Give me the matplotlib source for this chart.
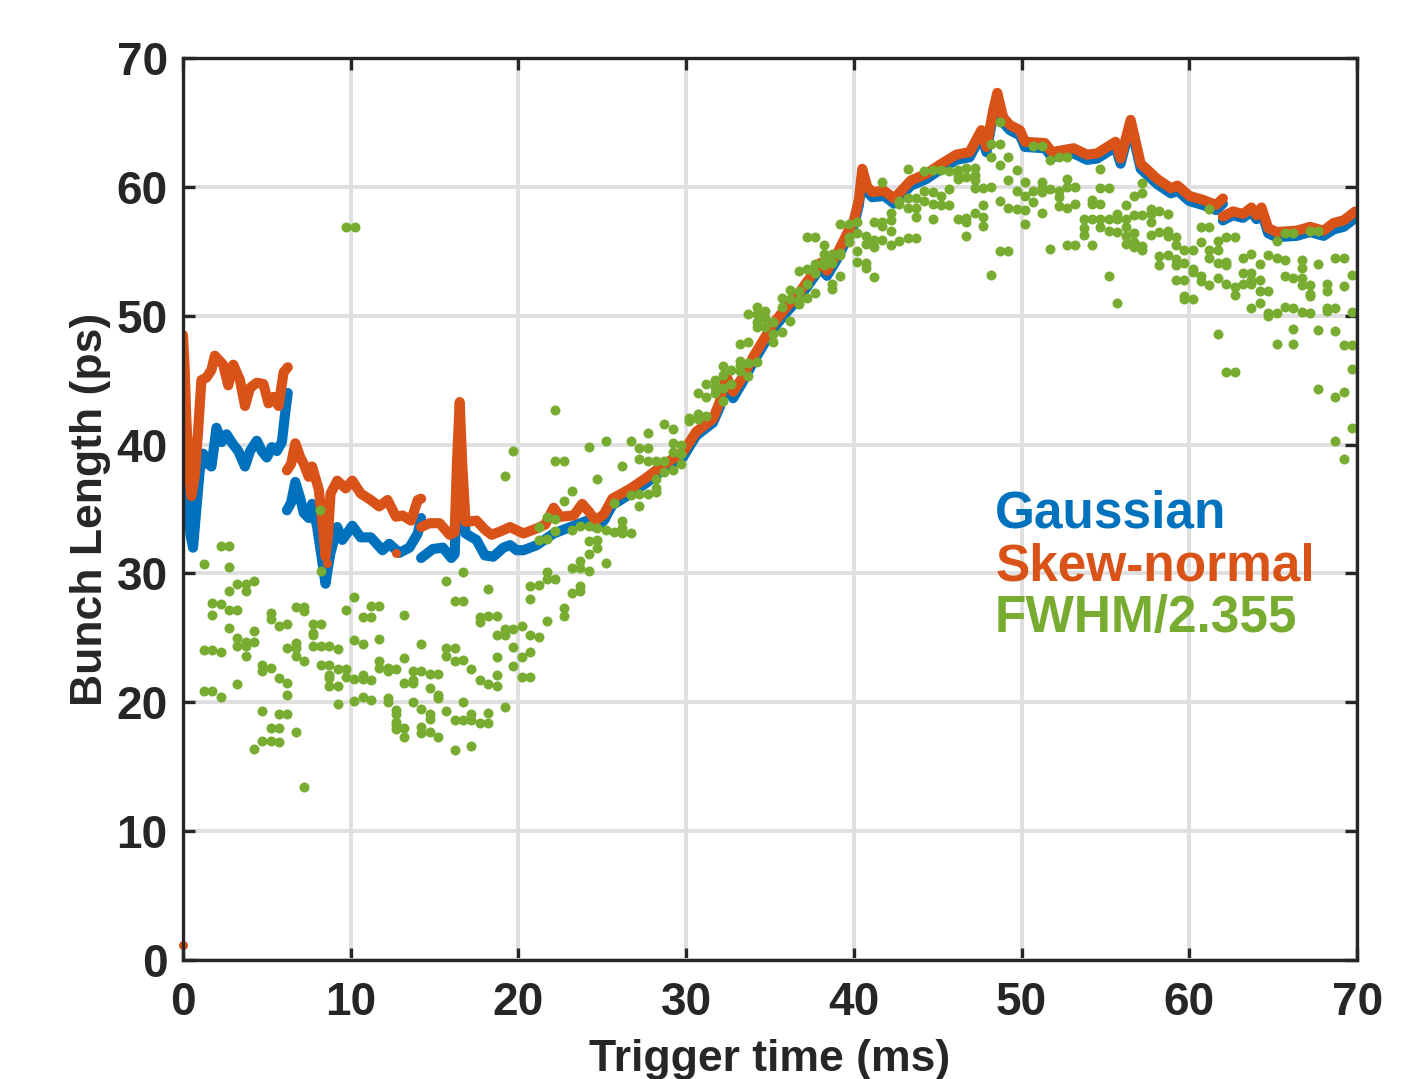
import numpy as np
import matplotlib.pyplot as plt

BLUE = '#0072BD'
ORANGE = '#D95319'
GREEN = '#77AC30'

# (time ms, bunch length ps); NaN breaks the trace where the record restarts
gauss_pts = [
    (0.0, 44.0), (0.15, 40.0), (0.3, 36.0), (0.45, 33.0), (0.6, 32.0), (0.8, 35.0),
    (1.0, 38.0), (1.2, 39.3), (1.5, 38.5), (1.7, 38.3), (2.0, 41.3), (2.3, 40.2),
    (2.6, 40.8), (3.0, 40.0), (3.3, 39.5), (3.7, 38.3), (4.0, 39.5), (4.4, 40.3),
    (4.7, 39.5), (5.0, 39.0), (5.3, 39.8), (5.6, 39.5), (5.9, 40.2), (6.1, 42.5),
    (6.25, 44.0),
    (np.nan, np.nan),
    (6.2, 34.9), (6.45, 35.5), (6.7, 37.1), (7.0, 35.8), (7.2, 34.7), (7.5, 34.3),
    (7.7, 35.4), (8.0, 33.6), (8.3, 31.0), (8.5, 29.2), (8.65, 30.5), (8.8, 31.6),
    (9.2, 33.6), (9.5, 32.6), (10.1, 33.7), (10.6, 32.8), (11.2, 32.8), (11.9, 31.8),
    (12.3, 32.3), (12.9, 31.6), (13.5, 32.0), (14.0, 33.1), (14.2, 34.3),
    (np.nan, np.nan),
    (14.2, 31.2), (14.9, 31.9), (15.5, 32.0), (16.0, 31.2), (16.2, 31.5), (16.35, 37.0),
    (16.5, 40.5), (16.65, 36.0), (16.85, 33.1), (17.5, 32.6), (18.0, 31.4), (18.5, 31.3),
    (19.1, 32.0), (19.5, 32.2), (19.9, 31.8), (20.3, 31.8), (21.1, 32.2), (22.1, 33.1),
    (23.1, 33.6), (24.1, 34.1), (24.6, 33.6), (25.1, 34.1), (25.6, 35.3), (26.7, 36.2),
    (27.6, 37.0), (28.6, 38.0), (29.8, 39.0), (30.6, 40.7), (31.6, 41.7), (32.0, 42.9),
    (32.4, 44.8), (32.8, 43.6), (33.3, 44.7), (34.0, 46.4), (34.6, 47.7), (35.2, 49.0),
    (36.0, 50.3), (36.7, 51.3), (37.4, 52.6), (38.0, 53.7), (38.4, 53.1), (39.0, 54.4),
    (39.6, 56.0), (40.0, 57.0), (40.3, 58.6), (40.5, 60.9), (40.8, 59.6), (41.1, 59.2),
    (41.8, 59.3), (42.4, 58.7), (43.4, 60.1), (44.3, 60.6), (45.1, 61.3), (46.1, 62.1),
    (46.9, 62.3), (47.6, 64.0), (47.9, 62.7), (48.3, 65.5), (48.55, 66.9), (48.9, 65.0),
    (49.3, 64.4), (49.9, 64.0), (50.2, 63.1), (51.4, 63.0), (51.8, 62.3), (53.1, 62.6),
    (53.9, 62.1), (54.5, 62.2), (55.6, 63.1), (55.9, 61.8), (56.5, 64.8), (57.1, 61.4),
    (58.1, 60.2), (58.9, 59.5), (59.3, 59.7), (60.0, 58.9), (60.8, 58.6), (61.6, 58.2),
    (62.0, 58.7),
    (np.nan, np.nan),
    (62.0, 57.4), (62.6, 57.8), (63.2, 57.6), (63.7, 58.1), (64.0, 57.5), (64.3, 58.1),
    (64.7, 56.4), (65.2, 56.1), (66.4, 56.2), (67.2, 56.5), (68.0, 56.2), (68.6, 56.7),
    (69.2, 56.9), (69.9, 57.6),
]

skew_pts = [
    (0.0, 48.5), (0.1, 46.0), (0.2, 42.0), (0.35, 38.0), (0.5, 36.0), (0.7, 37.5),
    (0.9, 41.0), (1.1, 45.0), (1.4, 45.2), (1.7, 45.8), (1.9, 46.9), (2.4, 46.2),
    (2.7, 44.6), (3.0, 46.2), (3.4, 45.0), (3.7, 43.0), (4.0, 44.4), (4.4, 44.8),
    (4.8, 44.7), (5.1, 43.2), (5.4, 43.7), (5.7, 43.0), (6.0, 45.6), (6.25, 46.0),
    (np.nan, np.nan),
    (6.2, 38.0), (6.45, 38.5), (6.7, 40.1), (7.0, 39.0), (7.2, 38.5), (7.5, 37.5),
    (7.7, 38.3), (8.1, 36.5), (8.35, 33.5), (8.5, 31.3), (8.65, 33.0), (8.8, 36.2),
    (9.2, 37.2), (9.7, 36.6), (10.1, 37.2), (10.6, 36.2), (11.2, 35.7), (11.7, 35.2),
    (12.2, 35.7), (12.7, 34.4), (13.1, 34.5), (13.6, 34.1), (14.0, 35.7), (14.2, 35.8),
    (np.nan, np.nan),
    (14.2, 33.6), (14.7, 33.9), (15.3, 33.9), (15.9, 33.0), (16.2, 33.2), (16.35, 39.0),
    (16.5, 43.3), (16.65, 38.5), (16.85, 34.0), (17.5, 34.1), (18.0, 33.4), (18.4, 33.0),
    (19.0, 33.3), (19.5, 33.6), (20.3, 33.1), (21.1, 33.5), (21.6, 33.8), (22.1, 35.1),
    (22.5, 34.4), (23.3, 34.5), (23.8, 35.4), (24.2, 34.8), (24.6, 34.1), (25.1, 34.6),
    (25.6, 35.8), (26.7, 36.6), (27.6, 37.4), (28.6, 38.4), (29.8, 39.4), (30.6, 41.0),
    (31.6, 42.0), (32.0, 43.3), (32.4, 45.3), (32.8, 44.1), (33.3, 45.1), (34.0, 46.8),
    (34.6, 48.1), (35.2, 49.4), (36.0, 50.7), (36.7, 51.7), (37.4, 53.0), (38.0, 54.1),
    (38.4, 53.5), (39.0, 54.8), (39.6, 56.4), (40.0, 57.4), (40.3, 59.0), (40.5, 61.4),
    (40.8, 60.0), (41.1, 59.6), (41.8, 59.7), (42.4, 59.1), (43.4, 60.5), (44.3, 61.0),
    (45.1, 61.7), (46.1, 62.5), (46.9, 62.7), (47.6, 64.4), (47.9, 63.1), (48.3, 65.9),
    (48.55, 67.3), (48.9, 65.4), (49.3, 64.8), (49.9, 64.4), (50.2, 63.5), (51.4, 63.4),
    (51.8, 62.7), (53.1, 63.0), (53.9, 62.5), (54.5, 62.6), (55.6, 63.5), (55.9, 62.2),
    (56.5, 65.2), (57.1, 61.8), (58.1, 60.6), (58.9, 59.9), (59.3, 60.1), (60.0, 59.3),
    (60.8, 59.0), (61.6, 58.6), (62.0, 59.1),
    (np.nan, np.nan),
    (62.0, 57.7), (62.6, 58.1), (63.2, 57.9), (63.7, 58.4), (64.0, 57.8), (64.3, 58.4),
    (64.7, 56.8), (65.2, 56.5), (66.4, 56.6), (67.2, 56.9), (68.0, 56.6), (68.6, 57.2),
    (69.2, 57.4), (69.9, 58.1),
]

skew_stray = [(0.0, 1.2), (8.6, 30.8), (12.7, 31.6)]

fwhm_pts = [
    # 0 - 10 ms
    (2.25, 32.1), (2.74, 32.1), (1.23, 30.7), (2.74, 30.5), (8.23, 30.2),
    (3.24, 29.2), (3.74, 29.2), (4.23, 29.4), (2.74, 28.6), (3.74, 28.6),
    (1.73, 27.7), (2.25, 27.6), (1.73, 26.8), (2.74, 27.2), (3.24, 27.2),
    (5.23, 26.9), (5.23, 26.5), (6.72, 27.4), (7.22, 27.4), (7.22, 27.1),
    (5.73, 25.9), (6.22, 26.1), (7.73, 26.1), (8.23, 26.1), (7.73, 25.4), (7.73, 25.2),
    (9.72, 27.2), (2.74, 25.8), (4.23, 25.5),
    (3.24, 25.0), (3.24, 24.4), (3.74, 24.7), (3.74, 24.4), (4.23, 24.7),
    (1.23, 24.05), (1.73, 24.05), (2.25, 23.9), (3.74, 23.6),
    (6.22, 24.2), (6.72, 24.2), (6.72, 24.6), (6.72, 23.6), (7.22, 23.2),
    (7.73, 24.4), (8.23, 24.4), (8.73, 24.4), (9.22, 24.1),
    (4.73, 22.9), (4.73, 22.4), (5.23, 22.7), (5.73, 21.9), (6.22, 21.5),
    (8.23, 22.9), (8.73, 22.9), (9.22, 22.6), (9.72, 22.6), (8.73, 22.1), (8.73, 21.9),
    (9.72, 22.0), (8.73, 21.3), (9.22, 21.3), (3.24, 21.4),
    (1.23, 20.9), (1.73, 20.9), (2.25, 20.4), (6.22, 20.6), (9.22, 19.9),
    (4.73, 19.3), (5.73, 19.1), (6.22, 19.1), (5.23, 18.0), (5.73, 18.0), (6.72, 17.7),
    (4.73, 17.0), (5.23, 17.0), (5.73, 16.9), (4.23, 16.4), (7.22, 13.4),
    (8.2, 34.9), (9.73, 56.9), (10.23, 56.9),
    # 10 - 21 ms
    (16.7, 30.1), (15.7, 29.4), (18.2, 28.8), (10.22, 28.2), (16.2, 27.9), (16.7, 27.9),
    (11.21, 27.5), (11.71, 27.5), (10.71, 26.6), (11.21, 26.6), (13.2, 26.8),
    (17.7, 26.6), (17.7, 26.2), (18.2, 26.7), (18.7, 26.7),
    (19.2, 25.7), (19.7, 25.7), (20.2, 25.9), (18.7, 25.2), (19.2, 25.2),
    (20.7, 25.2), (20.7, 29.0), (20.7, 28.0),
    (10.22, 24.8), (10.71, 24.5), (11.71, 24.9), (14.2, 24.5), (15.7, 24.2), (16.2, 24.2),
    (15.7, 23.6), (16.2, 23.2), (16.7, 23.3), (13.2, 23.4), (18.7, 23.5), (19.7, 24.3),
    (20.2, 23.5), (20.7, 23.9),
    (11.71, 23.2), (11.71, 22.7), (12.2, 22.7), (12.2, 22.4), (12.7, 22.6),
    (13.7, 22.4), (14.2, 22.4), (14.7, 22.2), (15.2, 22.2), (17.2, 22.6), (19.7, 22.8),
    (10.22, 21.8), (10.71, 22.1), (10.71, 21.8), (11.21, 21.7), (13.2, 21.5), (13.7, 21.5),
    (13.7, 21.7), (14.7, 21.1), (17.7, 21.7), (18.2, 21.4), (18.7, 21.3), (18.7, 22.1),
    (20.2, 22.0), (20.7, 22.0),
    (15.2, 20.6), (15.2, 20.3), (10.22, 20.1), (10.71, 20.4), (11.21, 20.2), (12.2, 20.3),
    (12.2, 20.0), (13.7, 20.0), (16.7, 20.0), (19.2, 19.6),
    (12.7, 19.4), (12.7, 19.1), (12.7, 18.5), (12.7, 18.2), (12.7, 17.9), (13.2, 18.0),
    (13.2, 17.3), (14.2, 19.5), (14.7, 19.1), (14.7, 18.7), (14.2, 18.1), (14.2, 17.6),
    (14.7, 17.7), (15.2, 17.3), (15.7, 19.3), (16.2, 18.6), (16.7, 18.6), (17.2, 19.1),
    (17.2, 18.6), (17.7, 18.4), (18.2, 19.2), (18.2, 18.4), (16.2, 16.3), (17.2, 16.6),
    # 19 - 30 ms
    (22.2, 42.7), (19.7, 39.5), (19.2, 37.6), (22.2, 38.7), (22.7, 38.7), (24.2, 39.8),
    (25.2, 40.3), (26.7, 40.3), (24.7, 37.3), (23.2, 36.4), (22.7, 35.6), (26.2, 38.3),
    (27.2, 39.7), (27.2, 38.9), (27.7, 39.7), (27.7, 38.7), (27.7, 40.9), (28.7, 41.6),
    (29.2, 41.2), (28.2, 38.7), (28.7, 38.7), (28.2, 37.3), (28.2, 36.6), (28.2, 36.3),
    (28.7, 37.9), (29.2, 40.1), (29.2, 39.4), (29.2, 38.0), (29.7, 40.0), (29.7, 39.3),
    (29.7, 38.5), (26.7, 36.1), (27.2, 36.2), (27.2, 35.2), (27.7, 36.2), (25.7, 35.5),
    (21.7, 34.4), (22.2, 34.2), (21.2, 33.6), (21.2, 32.6), (21.7, 32.7), (22.2, 33.3),
    (23.2, 33.4), (23.7, 33.7), (24.2, 33.7), (24.7, 33.5), (25.2, 33.4), (25.7, 33.2),
    (26.2, 34.1), (26.2, 33.5), (26.2, 33.1), (26.7, 33.1),
    (24.2, 32.5), (24.7, 32.6), (24.7, 32.0), (24.2, 31.5), (23.7, 31.0), (23.7, 30.4),
    (23.2, 30.4), (24.2, 30.2), (25.2, 30.8), (21.7, 30.1), (21.7, 29.6), (22.2, 29.6),
    (21.2, 29.1), (23.2, 28.5), (23.7, 29.0), (23.7, 28.6), (22.7, 27.3), (22.7, 26.7),
    (21.7, 26.3), (21.2, 25.1),
    # 30 - 41 ms
    (30.2, 42.1), (30.2, 41.8), (30.7, 42.4), (30.7, 42.0), (31.2, 42.2),
    (30.7, 44.0), (31.2, 44.7), (31.2, 43.7), (31.7, 45.0), (31.7, 44.5), (31.7, 44.0),
    (32.2, 46.1), (32.2, 45.4), (32.2, 44.4), (32.2, 43.4), (32.7, 45.8), (32.7, 44.7),
    (33.2, 47.8), (33.2, 46.5), (33.2, 46.2), (33.2, 45.7), (33.7, 48.0), (33.7, 46.3),
    (33.7, 45.3), (34.2, 46.4),
    (33.7, 50.1), (34.2, 50.7), (34.2, 50.1), (34.2, 49.5), (34.2, 49.1), (34.7, 50.4),
    (34.7, 49.8), (34.7, 49.1), (35.2, 49.5), (35.2, 48.6), (35.2, 48.0),
    (35.7, 48.7), (35.7, 50.7), (35.7, 51.4), (36.2, 52.0), (36.2, 51.3), (36.2, 49.6),
    (36.7, 51.9), (36.7, 51.2), (36.7, 50.9), (36.7, 53.5), (37.2, 53.6), (37.2, 52.5),
    (37.2, 51.4), (37.7, 54.0), (37.7, 53.3), (37.7, 51.8), (37.2, 56.1), (37.7, 56.1),
    (38.2, 55.5), (38.2, 54.8), (38.2, 54.3), (38.2, 53.9), (38.7, 54.8), (38.7, 54.1),
    (38.7, 52.5), (38.7, 52.1), (39.2, 54.9), (39.2, 54.7), (39.2, 53.1),
    (39.2, 57.1), (39.7, 57.1), (39.7, 56.1), (39.7, 55.7), (40.2, 57.3), (40.2, 56.4),
    (40.2, 55.0), (40.2, 54.2), (40.7, 56.2), (40.7, 55.6), (40.7, 54.1), (40.7, 53.7),
    (41.2, 55.9), (41.2, 55.3), (41.2, 53.0), (41.2, 57.3),
    # 41 - 54 ms
    (41.7, 60.4), (41.7, 57.3), (41.7, 57.0), (42.2, 58.0), (42.2, 57.4), (42.2, 56.6),
    (41.7, 55.9), (42.2, 55.5), (42.7, 55.8), (43.2, 56.0), (43.7, 56.0),
    (42.7, 58.9), (42.7, 58.7), (43.2, 59.1), (43.2, 58.4), (43.7, 59.1), (43.7, 58.4),
    (43.7, 57.7), (44.7, 57.5), (43.2, 61.4), (44.2, 61.2), (44.7, 61.3), (45.2, 61.3),
    (44.2, 59.7), (44.2, 58.9), (44.7, 59.6), (44.7, 58.7), (45.2, 59.3), (45.2, 58.6),
    (45.7, 59.8), (45.7, 58.6), (45.7, 61.2), (46.2, 61.3), (46.2, 60.9), (46.2, 60.6),
    (46.7, 61.5), (46.7, 60.8), (47.2, 61.5), (47.2, 60.9), (47.2, 60.5),
    (46.2, 57.5), (46.7, 57.6), (46.7, 57.3), (46.7, 56.2), (47.2, 58.0),
    (47.2, 59.9), (47.7, 59.9), (47.7, 58.6), (47.7, 57.7), (47.7, 57.0),
    (48.2, 60.0), (48.2, 62.3), (48.2, 63.3), (48.7, 63.3), (48.7, 65.0), (48.7, 61.7),
    (48.7, 58.9), (48.2, 53.2), (48.7, 55.0), (49.2, 55.0),
    (49.2, 62.3), (49.2, 60.5), (49.2, 58.4), (49.7, 58.3), (50.2, 58.2), (50.2, 57.1),
    (49.7, 61.3), (49.7, 59.7), (50.2, 60.4), (50.2, 59.3),
    (50.7, 63.2), (51.2, 63.2), (50.7, 59.7), (50.7, 58.8), (51.2, 60.4), (51.2, 59.9),
    (51.2, 59.6), (51.2, 58.0), (51.7, 62.1), (52.2, 62.3), (52.7, 62.3),
    (51.7, 59.8), (52.2, 59.7), (52.2, 59.2), (52.2, 58.5), (52.7, 60.6), (52.7, 60.0),
    (52.7, 58.4), (53.2, 60.0), (53.2, 58.7), (53.7, 57.5), (53.7, 56.8), (53.7, 56.3),
    (51.7, 55.2), (52.7, 55.5), (53.2, 55.5),
    # 54 - 70 ms
    (54.7, 61.4), (54.7, 59.9), (55.2, 59.9), (54.2, 59.0), (54.2, 58.7), (54.7, 58.7),
    (54.2, 57.5), (54.7, 57.5), (55.2, 57.5), (55.7, 57.9), (55.7, 57.5), (56.2, 57.5),
    (56.7, 57.8), (57.2, 57.8), (56.2, 58.6), (56.7, 59.3), (57.2, 59.5), (57.2, 60.3),
    (54.7, 56.9), (55.2, 56.6), (55.7, 56.5), (56.2, 56.9), (56.2, 56.2), (56.7, 56.4),
    (56.2, 55.6), (56.7, 55.7), (56.7, 55.3), (57.2, 55.4), (57.2, 55.1), (54.2, 55.5),
    (57.7, 58.3), (57.7, 57.9), (57.7, 57.3), (58.2, 58.1), (58.7, 57.9),
    (57.7, 56.3), (58.2, 56.5), (58.7, 56.6), (58.7, 56.2), (59.2, 56.1), (59.2, 55.5),
    (58.2, 54.6), (58.2, 53.9), (58.7, 54.7), (59.2, 54.4), (59.2, 53.9), (59.7, 54.1),
    (59.7, 55.1), (60.2, 55.1), (59.2, 52.8), (59.7, 52.8), (59.7, 51.5), (59.7, 51.3),
    (60.2, 51.3), (55.2, 53.1), (55.7, 51.0),
    (60.2, 53.6), (60.2, 53.4), (60.7, 53.1), (60.7, 52.7), (61.2, 52.4), (61.7, 52.9),
    (62.2, 52.5), (62.7, 52.2), (62.7, 51.6), (60.7, 56.9), (61.2, 56.9), (61.2, 58.3),
    (60.7, 55.7), (61.7, 55.8), (62.2, 56.1), (62.7, 56.1), (61.2, 55.1), (61.2, 54.5),
    (61.7, 55.1), (61.7, 54.1), (62.2, 54.2), (62.2, 53.9),
    (63.2, 54.5), (63.7, 54.8), (64.2, 54.0), (64.7, 54.7), (65.2, 54.5), (65.7, 54.3),
    (66.7, 54.3), (66.7, 53.7), (67.7, 54.0), (68.7, 54.5), (69.2, 54.5),
    (63.2, 53.3), (63.2, 52.5), (63.7, 53.3), (63.7, 52.8), (63.7, 52.5), (64.2, 52.8),
    (64.2, 51.9), (64.7, 51.9), (65.7, 53.1), (66.2, 52.9), (66.7, 52.9), (66.7, 52.4),
    (67.2, 52.4), (67.2, 51.7), (67.2, 51.5), (68.2, 52.5), (68.2, 51.9), (69.2, 52.3),
    (69.7, 53.2), (63.7, 50.6), (64.2, 51.0), (64.7, 50.2), (64.7, 50.0), (65.2, 50.2),
    (65.7, 50.7), (66.2, 50.6), (66.7, 50.3), (67.2, 50.2), (68.2, 50.6), (68.2, 50.4),
    (68.7, 50.6), (69.7, 50.3), (65.2, 55.8), (65.7, 56.4), (66.2, 56.4), (67.2, 56.6),
    (67.7, 56.6), (61.7, 48.6), (65.2, 47.8), (66.2, 47.8), (66.2, 49.0), (67.7, 48.9),
    (68.7, 48.8), (69.2, 47.7), (69.7, 47.7), (69.7, 45.9), (62.2, 45.6), (62.7, 45.6),
    (67.7, 44.3), (68.7, 43.7), (69.2, 44.1), (69.7, 41.3), (68.7, 40.3), (69.2, 38.9),
]

ticks = [0, 10, 20, 30, 40, 50, 60, 70]
legend_labels = ['Gaussian', 'Skew-normal', 'FWHM/2.355']

plt.rcParams['font.family'] = ['Liberation Sans', 'DejaVu Sans']
plt.rcParams['font.weight'] = 'bold'
plt.rcParams['axes.labelweight'] = 'bold'

fig = plt.figure(figsize=(14.27, 10.79), dpi=100)
ax = fig.add_axes([0.1282, 0.1103, 0.8228, 0.8359])

g = np.array(gauss_pts)
s = np.array(skew_pts)
st = np.array(skew_stray)
f = np.array(fwhm_pts)

ax.plot(g[:, 0], g[:, 1], color=BLUE, lw=7.3, solid_capstyle='round', solid_joinstyle='round')
ax.plot(s[:, 0], s[:, 1], color=ORANGE, lw=7.3, solid_capstyle='round', solid_joinstyle='round')
ax.plot(st[:, 0], st[:, 1], 'o', color=ORANGE, ms=6.5, mew=0, clip_on=False)
ax.plot(f[:, 0], f[:, 1], 'o', color=GREEN, ms=7.2, mew=0)

ax.set_xlim(0, 70)
ax.set_ylim(0, 70)
ax.set_xticks(ticks)
ax.set_yticks(ticks)
ax.grid(True, color='#DFDFDF', lw=2.8)
ax.set_axisbelow(True)
for sp in ax.spines.values():
    sp.set_linewidth(2.4)
    sp.set_color('#262626')
ax.tick_params(direction='in', length=8.6, width=2.4, color='#262626',
               top=True, right=True, labelsize=33, labelcolor='#262626')
ax.tick_params(axis='x', pad=15)
ax.tick_params(axis='y', pad=11)

ax.set_xlabel('Trigger time (ms)', fontsize=32, fontweight='bold', color='#262626', labelpad=10)
ax.set_ylabel('Bunch Length (ps)', fontsize=32, fontweight='bold', color='#262626', labelpad=4)

for lab, col, yy in zip(legend_labels, [BLUE, ORANGE, GREEN], [0.480, 0.4213, 0.3636]):
    ax.text(0.6917, yy, lab, transform=ax.transAxes, color=col, fontsize=37,
            fontweight='bold', ha='left', va='baseline')

fig.savefig('out.png', dpi=100)
